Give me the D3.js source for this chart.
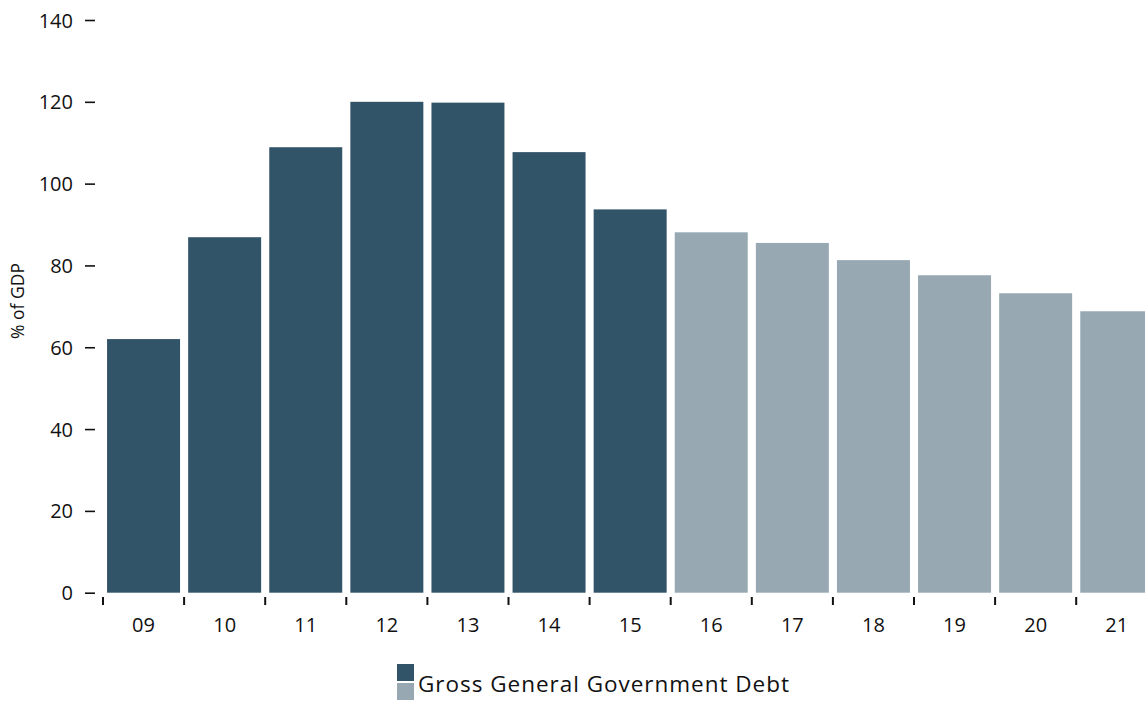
<!DOCTYPE html>
<html>
<head>
<meta charset="utf-8">
<script src="https://cdnjs.cloudflare.com/ajax/libs/d3/7.8.5/d3.min.js"></script>
<style>
    body { margin: 0; background: #fff; overflow: hidden; }
    text { font-family: "Open Sans", sans-serif; fill: #111; }
</style>
</head>
<body>
<div id="chart"></div>
<script>
// data
const years = ["09", "10", "11", "12", "13", "14", "15", "16", "17", "18", "19", "20", "21"];
const debt = [62.0, 86.9, 108.9, 120.0, 119.8, 107.7, 93.7, 88.1, 85.5, 81.3, 77.6, 73.2, 68.8];
const projected = [false, false, false, false, false, false, false, true, true, true, true, true, true];
const yTicks = [0, 20, 40, 60, 80, 100, 120, 140];

const width = 1145, height = 701;
const darkColor = "#325468", lightColor = "#97a8b3";

let svg = d3.select("#chart")
    .append("svg")
    .attr("width", width)
    .attr("height", height);

let xScale = d3.scaleBand()
    .domain(years)
    .range([103, 103 + 13 * 81.1])
    .paddingInner(0.1)
    .paddingOuter(0.05);

let yScale = d3.scaleLinear()
    .domain([0, 140])
    .range([592.7, 20]);

// y axis
let yAxis = svg.append("g")
    .attr("transform", "translate(95,0)")
    .call(d3.axisLeft(yScale)
        .tickValues(yTicks)
        .tickSize(10)
        .tickPadding(12));
yAxis.select(".domain").remove();
yAxis.selectAll("line").attr("stroke", "#111").attr("stroke-width", 1.6);
yAxis.selectAll("text").style("font-size", "20px").attr("dy", "0.35em");

svg.append("text")
    .attr("transform", "translate(24,301) rotate(-90)")
    .attr("text-anchor", "middle")
    .style("font-size", "17.5px")
    .text("% of GDP");

// bars
svg.append("g")
    .selectAll("rect")
    .data(years)
    .join("rect")
    .attr("x", function (d) { return xScale(d); })
    .attr("y", function (d, i) { return yScale(debt[i]); })
    .attr("width", xScale.bandwidth())
    .attr("height", function (d, i) { return yScale(0) - yScale(debt[i]); })
    .style("fill", function (d, i) { return projected[i] ? lightColor : darkColor; });

// x axis: labels centred, tick marks on band boundaries
let xAxis = svg.append("g")
    .attr("transform", "translate(0,598)")
    .call(d3.axisBottom(xScale).tickSize(0).tickPadding(20));
xAxis.select(".domain").remove();
xAxis.selectAll("text").style("font-size", "20px");

let half = xScale.step() * xScale.paddingInner() / 2;
svg.append("g")
    .selectAll("line")
    .data(years.concat(["end"]))
    .join("line")
    .attr("x1", function (d, i) { return i < years.length ? xScale(d) - half : xScale(years[i - 1]) + xScale.bandwidth() + half; })
    .attr("x2", function (d, i) { return i < years.length ? xScale(d) - half : xScale(years[i - 1]) + xScale.bandwidth() + half; })
    .attr("y1", 597)
    .attr("y2", 605)
    .attr("stroke", "#111")
    .attr("stroke-width", 2);

// legend
let legend = svg.append("g").attr("transform", "translate(397,664)");
legend.append("rect").attr("x", 0).attr("y", 0).attr("width", 17).attr("height", 17).style("fill", darkColor);
legend.append("rect").attr("x", 0).attr("y", 19).attr("width", 17).attr("height", 17).style("fill", lightColor);
legend.append("text")
    .attr("x", 21)
    .attr("y", 28)
    .attr("textLength", 371)
    .attr("lengthAdjust", "spacing")
    .style("font-size", "22.5px")
    .text("Gross General Government Debt");
</script>
</body>
</html>
